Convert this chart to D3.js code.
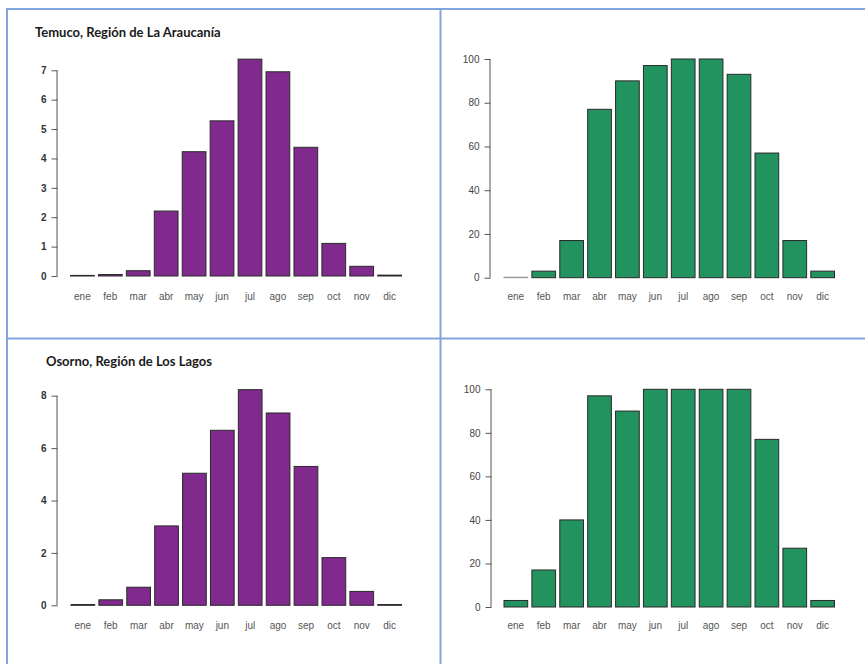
<!DOCTYPE html>
<html>
<head>
<meta charset="utf-8">
<script src="https://cdn.jsdelivr.net/npm/d3@7"></script>
<style>
  body { margin: 0; background: #fff; }
  svg { display: block; }
</style>
</head>
<body>
<svg id="chart" width="865" height="664"></svg>
<script>
// Months (Spanish abbreviations)
const months = ["ene","feb","mar","abr","may","jun","jul","ago","sep","oct","nov","dic"];

// Temuco, Región de La Araucanía
const temucoFrost = [0.02, 0.05, 0.18, 2.21, 4.23, 5.28, 7.38, 6.95, 4.38, 1.11, 0.33, 0.03];
const temucoPct   = [0, 3, 17, 77, 90, 97, 100, 100, 93, 57, 17, 3];

// Osorno, Región de Los Lagos
const osornoFrost = [0.03, 0.21, 0.69, 3.03, 5.04, 6.68, 8.23, 7.34, 5.3, 1.82, 0.53, 0.03];
const osornoPct   = [3, 17, 40, 97, 90, 100, 100, 100, 100, 77, 27, 3];

// Tick values for each y axis
const ticksTemucoFrost = [0,1,2,3,4,5,6,7];
const ticksOsornoFrost = [0,2,4,6,8];
const ticksPct = [0,20,40,60,80,100];

const titles = ["Temuco, Región de La Araucanía", "Osorno, Región de Los Lagos"];

const purple = "#7f2a8c";
const green = "#22925f";
const sans = "'Liberation Sans', Arimo, sans-serif";

const svg = d3.select("#chart");

// Panel frame lines
const frame = svg.append("g").attr("stroke", "#7fa6de").attr("stroke-width", 2);
frame.append("line").attr("x1", 7).attr("x2", 865).attr("y1", 9).attr("y2", 9);
frame.append("line").attr("x1", 7).attr("x2", 7).attr("y1", 8).attr("y2", 664);
frame.append("line").attr("x1", 440.5).attr("x2", 440.5).attr("y1", 8).attr("y2", 664);
frame.append("line").attr("x1", 7).attr("x2", 865).attr("y1", 338.5).attr("y2", 338.5);

function panel(cfg) {
  const g = svg.append("g");
  const x = d3.scaleBand().domain(months).range(cfg.xr).paddingInner(0.15).paddingOuter(0);
  const y = d3.scaleLinear().domain([0, d3.max(cfg.ticks)]).range(cfg.yr);

  // bars (zero values still show as a hairline at the baseline)
  g.selectAll("rect").data(cfg.values).join("rect")
    .attr("x", (d, i) => x(months[i]))
    .attr("width", x.bandwidth())
    .attr("y", d => Math.min(y(d), y(0) - 0.5))
    .attr("height", d => Math.max(0.5, y(0) - y(d)))
    .attr("fill", cfg.color)
    .attr("stroke", d => d === 0 ? "#999" : "#2a2a2a")
    .attr("stroke-width", 1);

  // y axis
  const ax = d3.axisLeft(y).tickValues(cfg.ticks).tickSize(6).tickPadding(5).tickFormat(d3.format("d"));
  const ag = g.append("g").attr("transform", `translate(${cfg.axisX},0)`).call(ax);
  ag.select(".domain").attr("stroke", "#555").attr("d", `M-0.5,${y(0)}V${y(d3.max(cfg.ticks))}`);
  ag.selectAll(".tick line").attr("stroke", "#555");
  ag.selectAll(".tick text")
    .attr("fill", cfg.tickColor)
    .style("font-family", sans)
    .style("font-size", "10px")
    .style("font-weight", cfg.tickWeight);

  // month labels
  g.selectAll("text.month").data(months).join("text")
    .attr("class", "month")
    .attr("x", d => x(d) + x.bandwidth() / 2)
    .attr("y", cfg.labelY)
    .attr("text-anchor", "middle")
    .attr("fill", "#555")
    .style("font-family", sans)
    .style("font-size", "10px")
    .text(d => d);

  if (cfg.title) {
    g.append("text")
      .attr("x", cfg.titleX)
      .attr("y", cfg.titleY)
      .attr("fill", "#1a1a1a")
      .style("font-family", "Lato, 'Open Sans', sans-serif")
      .style("font-size", "13px")
      .style("font-weight", "bold")
      .text(cfg.title);
  }
}

panel({ values: temucoFrost, ticks: ticksTemucoFrost, color: purple,
  xr: [70.5, 401.5], yr: [276, 70.3], axisX: 57.5, labelY: 300,
  tickColor: "#333", tickWeight: "bold",
  title: titles[0], titleX: 35, titleY: 37 });

panel({ values: temucoPct, ticks: ticksPct, color: green,
  xr: [504, 834.5], yr: [277.7, 59], axisX: 490.5, labelY: 300,
  tickColor: "#444", tickWeight: "normal" });

panel({ values: osornoFrost, ticks: ticksOsornoFrost, color: purple,
  xr: [71, 401.5], yr: [605.3, 395.7], axisX: 57.5, labelY: 629,
  tickColor: "#333", tickWeight: "bold",
  title: titles[1], titleX: 46, titleY: 366 });

panel({ values: osornoPct, ticks: ticksPct, color: green,
  xr: [504, 834.5], yr: [607, 389.3], axisX: 491.5, labelY: 629,
  tickColor: "#444", tickWeight: "normal" });
</script>
</body>
</html>
